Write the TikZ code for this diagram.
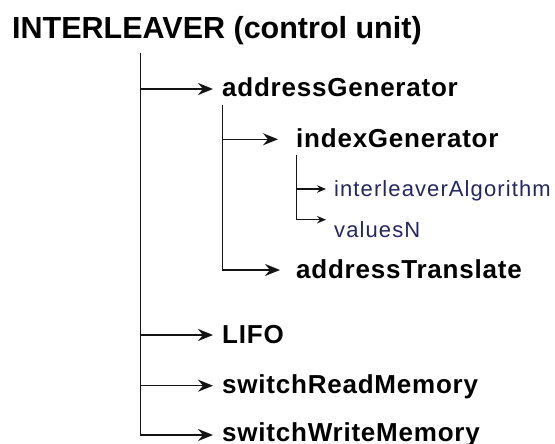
\documentclass[tikz,border=0pt]{standalone}
\usepackage{fontspec}
\setmainfont{Liberation Sans}
\newfontfamily\branchfont{Liberation Sans}[LetterSpace=3.0]
\newfontfamily\leaffont{Liberation Sans}[LetterSpace=5.0]
\usetikzlibrary{arrows.meta}
\definecolor{leafblue}{RGB}{38,38,96}
\definecolor{inkline}{RGB}{20,20,20}

\begin{document}
\begin{tikzpicture}[x=1pt,y=-1pt,
  titletext/.style={anchor=base west, inner sep=0pt,
    font=\fontsize{30.5}{36}\selectfont\bfseries},
  branchtext/.style={anchor=base west, inner sep=0pt,
    font=\branchfont\fontsize{26}{30}\selectfont\bfseries},
  leaftext/.style={anchor=base west, inner sep=0pt, text=leafblue,
    font=\leaffont\fontsize{22}{26}\selectfont},
  link/.style={draw=inkline, line width=1.5pt},
  bigarrow/.style={link, -{Stealth[length=15pt,width=12pt,inset=5pt]}},
  smallarrow/.style={link, line width=1.3pt, -{Stealth[length=9pt,width=7.5pt,inset=3pt]}}]

\useasboundingbox (0,0) rectangle (555,444);
\fill[white] (0,0) rectangle (555,444);

% labels of the hierarchy
\node[titletext]  (root) at (12,38.3)  {INTERLEAVER (control unit)};
\node[branchtext] (agen) at (222,97)   {addressGenerator};
\node[branchtext] (igen) at (296,147.3) {indexGenerator};
\node[leaftext]   (ialg) at (334,196)  {interleaverAlgorithm};
\node[leaftext]   (vals) at (334,237.7) {valuesN};
\node[branchtext] (atr)  at (296,278)  {addressTranslate};
\node[branchtext] (lifo) at (222,343)  {LIFO};
\node[branchtext] (srm)  at (222,393.7) {switchReadMemory};
\node[branchtext] (swm)  at (222,441)  {switchWriteMemory};

% tops of the three vertical trunks
\coordinate (t1) at (140.5,53);
\coordinate (t2) at (222.5,105);
\coordinate (t3) at (296.5,155);

% level 1
\draw[bigarrow] (t1) |- ([shift={(-9pt,8pt)}]agen.base west);
\draw[bigarrow] (t1) |- ([shift={(-9pt,8pt)}]lifo.base west);
\draw[bigarrow] (t1) |- ([shift={(-9pt,8pt)}]srm.base west);
\draw[bigarrow] (t1) |- ([shift={(-9pt,6pt)}]swm.base west);

% level 2
\draw[bigarrow] (t2) |- ([shift={(-18pt,8pt)}]igen.base west);
\draw[bigarrow] (t2) |- ([shift={(-16pt,8pt)}]atr.base west);

% level 3
\draw[smallarrow] (t3) |- ([shift={(-8pt,7pt)}]ialg.base west);
\draw[smallarrow] (t3) |- ([shift={(-8pt,18pt)}]vals.base west);
\end{tikzpicture}
\end{document}
